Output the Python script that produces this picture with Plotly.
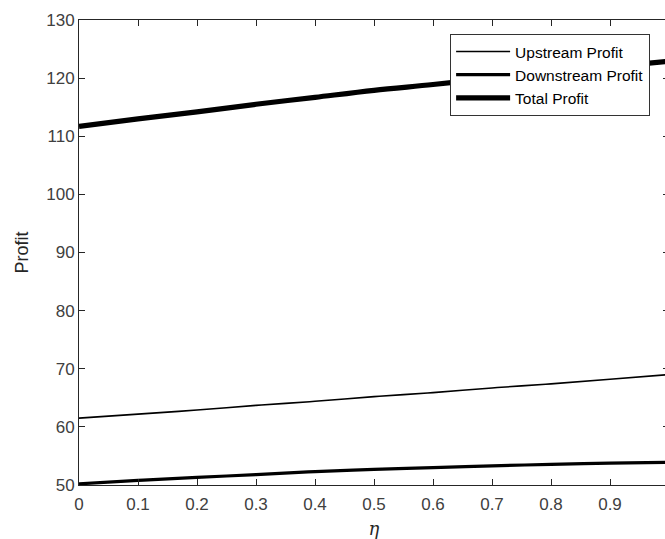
import plotly.graph_objects as go

eta = [0.0, 0.1, 0.2, 0.3, 0.4, 0.5, 0.6, 0.7, 0.8, 0.9, 1.0]
upstream = [61.5, 62.2, 62.9, 63.7, 64.4, 65.2, 65.9, 66.7, 67.4, 68.2, 69.0]
downstream = [50.2, 50.8, 51.3, 51.8, 52.3, 52.7, 53.0, 53.3, 53.55, 53.75, 53.9]
total = [111.7, 113.0, 114.2, 115.5, 116.7, 117.9, 118.9, 120.0, 120.95, 121.95, 122.9]

x_ticks = [0, 0.1, 0.2, 0.3, 0.4, 0.5, 0.6, 0.7, 0.8, 0.9, 1.0]
x_ticklabels = ["0", "0.1", "0.2", "0.3", "0.4", "0.5", "0.6", "0.7", "0.8", "0.9", "1"]
y_ticks = [50, 60, 70, 80, 90, 100, 110, 120, 130]

axc = "#262626"
font_family = "Liberation Sans, Arial, Helvetica, sans-serif"

fig = go.Figure()
fig.add_trace(go.Scatter(x=eta, y=upstream, mode="lines", name="Upstream Profit",
                         line=dict(color="black", width=1.6, shape="spline")))
fig.add_trace(go.Scatter(x=eta, y=downstream, mode="lines", name="Downstream Profit",
                         line=dict(color="black", width=3.2, shape="spline")))
fig.add_trace(go.Scatter(x=eta, y=total, mode="lines", name="Total Profit",
                         line=dict(color="black", width=5.2, shape="spline")))

axis_common = dict(
    showgrid=False, zeroline=False, showline=True, mirror="ticks",
    linecolor=axc, linewidth=1, ticks="inside", ticklen=6, tickwidth=1,
    tickcolor=axc, tickfont=dict(family=font_family, size=17, color="#404040"),
    automargin=False,
)

fig.update_layout(
    width=700, height=539,
    margin=dict(l=79, r=31, t=20, b=54),
    paper_bgcolor="white", plot_bgcolor="white",
    showlegend=True,
    legend=dict(
        x=0.629, y=0.970, xanchor="left", yanchor="top",
        bgcolor="white", bordercolor="#333333", borderwidth=1,
        font=dict(family=font_family, size=15.5, color="black"),
        itemwidth=54, tracegroupgap=0,
    ),
    xaxis=dict(range=[0, 1], tickvals=x_ticks, ticktext=x_ticklabels,
               ticklabelstandoff=4,
               title=dict(text="<i>η</i>", font=dict(family="DejaVu Serif, serif", size=18, color=axc), standoff=10),
               **axis_common),
    yaxis=dict(range=[50, 130], tickvals=y_ticks,
               title=dict(text="Profit", font=dict(family=font_family, size=18, color=axc), standoff=12),
               **axis_common),
)

fig.write_html("out.html")
